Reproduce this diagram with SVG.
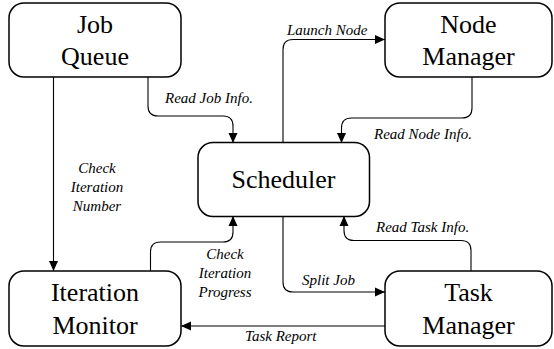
<svg xmlns="http://www.w3.org/2000/svg" width="554" height="349" viewBox="0 0 554 349">
<style>
.box{fill:#fff;stroke:#000;stroke-width:1.5}
.nt{font-size:26px;text-anchor:middle;fill:#000}
.et{font-size:15px;font-style:italic;fill:#000}
.c{fill:none;stroke:#000;stroke-width:1.1}
</style>
<defs>
<marker id="ah" markerWidth="10" markerHeight="10" viewBox="0 0 10 10" refX="10" refY="5" orient="auto" markerUnits="userSpaceOnUse">
<path d="M0,0.5 L10,5 L0,9.5 Z" fill="#000"/>
</marker>
</defs>
<rect width="554" height="349" fill="#fff"/>
<g id="connectors" font-family="Liberation Serif, Tinos, Times New Roman, DejaVu Serif, serif">
<path class="c" d="M53.5,77 V271" marker-end="url(#ah)"/>
<path class="c" d="M148,77 V106 Q148,116 158,116 H223 Q233,116 233,126 V143" marker-end="url(#ah)"/>
<path class="c" d="M283,143 V49.5 Q283,39.5 293,39.5 H385" marker-end="url(#ah)"/>
<path class="c" d="M472,77 V108 Q472,118 462,118 H351.5 Q341.5,118 341.5,128 V143" marker-end="url(#ah)"/>
<path class="c" d="M471,271 V250.5 Q471,240.5 461,240.5 H354 Q344,240.5 344,230.5 V216" marker-end="url(#ah)"/>
<path class="c" d="M283,216 V282 Q283,292 293,292 H385" marker-end="url(#ah)"/>
<path class="c" d="M385,326 H181" marker-end="url(#ah)"/>
<path class="c" d="M150.5,271 V252 Q150.5,242 160.5,242 H223 Q233,242 233,232 V216" marker-end="url(#ah)"/>
<text class="et" x="165" y="103">Read Job Info.</text>
<text class="et" x="287" y="35">Launch Node</text>
<text class="et" x="374" y="139">Read Node Info.</text>
<text class="et" x="376" y="232">Read Task Info.</text>
<text class="et" x="302" y="285">Split Job</text>
<text class="et" x="245" y="341">Task Report</text>
<text class="et" text-anchor="middle" x="97" y="173">Check</text>
<text class="et" text-anchor="middle" x="97" y="192">Iteration</text>
<text class="et" text-anchor="middle" x="97" y="211">Number</text>
<text class="et" text-anchor="middle" x="225" y="259">Check</text>
<text class="et" text-anchor="middle" x="225" y="278">Iteration</text>
<text class="et" text-anchor="middle" x="225" y="297">Progress</text>
</g>
<g id="job-queue" font-family="Liberation Serif, Tinos, Times New Roman, DejaVu Serif, serif">
<rect class="box" x="9" y="3" width="172" height="74" rx="15"/>
<text class="nt" x="95" y="33">Job</text>
<text class="nt" x="95" y="65">Queue</text>
</g>
<g id="node-manager" font-family="Liberation Serif, Tinos, Times New Roman, DejaVu Serif, serif">
<rect class="box" x="385" y="3" width="167" height="74" rx="15"/>
<text class="nt" x="468.5" y="33">Node</text>
<text class="nt" x="468.5" y="65">Manager</text>
</g>
<g id="scheduler" font-family="Liberation Serif, Tinos, Times New Roman, DejaVu Serif, serif">
<rect class="box" x="198" y="142.5" width="171.5" height="74" rx="15"/>
<text class="nt" x="283.5" y="188">Scheduler</text>
</g>
<g id="iteration-monitor" font-family="Liberation Serif, Tinos, Times New Roman, DejaVu Serif, serif">
<rect class="box" x="9" y="271" width="172" height="75" rx="15"/>
<text class="nt" x="95" y="301">Iteration</text>
<text class="nt" x="95" y="334">Monitor</text>
</g>
<g id="task-manager" font-family="Liberation Serif, Tinos, Times New Roman, DejaVu Serif, serif">
<rect class="box" x="385" y="271" width="167" height="75" rx="15"/>
<text class="nt" x="468.5" y="301">Task</text>
<text class="nt" x="468.5" y="334">Manager</text>
</g>
</svg>
